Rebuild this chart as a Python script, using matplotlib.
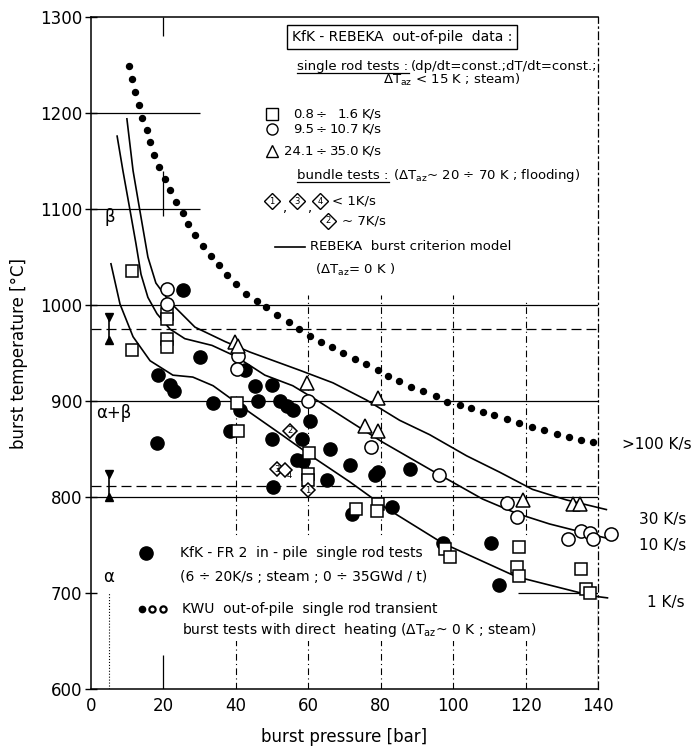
import numpy as np
import matplotlib.pyplot as plt
from matplotlib.lines import Line2D
from matplotlib.patches import Rectangle

plt.rcParams['font.family'] = ['DejaVu Sans']
plt.rcParams['mathtext.default'] = 'regular'

# REBEKA burst criterion model (dT_az = 0 K) for 1, 10 and 30 K/s
c1_p = [5.5, 8.0, 11.6, 16.3, 22.6, 28.1, 33.7, 40.3, 43.9, 53.0, 62.3, 71.4, 81.7, 97.1, 117.5, 138.5, 142.6]
c1_t = [1043, 1001, 967, 942, 927, 925, 916, 898, 888, 864, 839, 816, 788, 752, 717, 697, 695]
c10_p = [7.2, 8.8, 10.8, 12.4, 13.8, 15.7, 18.2, 21.8, 25.9, 33.4, 39.7, 43.9, 48.0, 55.7, 62.3, 71.4, 80.6,
         93.5, 108.1, 117.5, 126.6, 137.1, 142.6]
c10_t = [1176, 1140, 1098, 1064, 1032, 1008, 991, 975, 965, 958, 947, 937, 927, 916, 901, 879, 857,
         829, 798, 783, 772, 762, 757]
c30_p = [9.9, 11.6, 13.5, 15.7, 17.9, 21.8, 28.7, 37.0, 43.9, 57.7, 66.8, 76.1, 85.2, 93.5, 103.7, 112.8,
         121.9, 131.3, 142.3]
c30_t = [1194, 1140, 1098, 1050, 1023, 1003, 977, 962, 951, 932, 919, 901, 880, 865, 843, 826,
         808, 797, 787]

# KWU out-of-pile transient burst tests (>100 K/s)
kwu_p = [10.5, 11.3, 12.1, 13.2, 14.1, 15.4, 16.3, 17.4, 18.8, 20.4, 21.8, 23.4, 25.4, 26.8, 28.7, 30.9, 33.1,
         35.3, 37.5, 40.0, 42.8, 45.8, 48.3, 51.3, 54.6, 57.4, 60.4, 63.4, 66.5, 69.5, 72.8, 75.9, 79.2, 81.9,
         85.0, 88.3, 91.6, 95.2, 98.2, 101.8, 104.8, 108.1, 111.4, 114.8, 118.3, 121.7, 125.2, 128.6, 131.9,
         135.2, 138.5]
kwu_t = [1249, 1235, 1222, 1208, 1195, 1182, 1170, 1156, 1144, 1131, 1120, 1107, 1096, 1084, 1073, 1062, 1051,
         1042, 1031, 1022, 1012, 1004, 998, 990, 982, 975, 968, 962, 956, 950, 944, 939, 932, 926,
         921, 915, 910, 905, 899, 896, 893, 889, 885, 881, 877, 873, 870, 866, 863,
         859, 857]

# KfK-FR2 in-pile single rod tests
fr2_p = [25.4, 30.1, 18.5, 21.8, 22.9, 33.7, 41.2, 18.2, 38.4, 42.5, 45.3, 46.1, 50.0, 52.2, 54.1, 55.8, 60.5,
         50.0, 58.3, 56.9, 58.6, 66.0, 71.5, 79.3, 78.5, 88.1, 50.3, 65.2, 83.1, 72.1, 97.2, 110.5, 112.7]
fr2_t = [1016, 946, 927, 917, 911, 898, 891, 856, 869, 932, 916, 900, 917, 900, 895, 891, 879,
         860, 860, 839, 838, 850, 833, 826, 823, 829, 811, 818, 790, 782, 752, 752, 708]

# REBEKA single rod tests
sq_p = [11.3, 11.3, 21.0, 21.0, 21.0, 21.0, 40.3, 40.6, 60.1, 59.9, 59.9, 73.2, 79.2, 78.9, 97.7, 99.0,
        118.3, 117.5, 118.3, 135.4, 136.8, 137.7]
sq_t = [1036, 953, 991, 985, 965, 956, 898, 869, 846, 824, 818, 788, 793, 785, 746, 738,
        748, 727, 718, 725, 704, 700]
circ_p = [21.0, 21.0, 40.6, 40.3, 59.9, 77.2, 96.0, 114.8, 117.5, 131.6, 135.4, 137.7, 138.5, 143.7]
circ_t = [1017, 1001, 947, 933, 900, 852, 823, 794, 779, 756, 765, 763, 756, 762]
tri_p = [39.8, 40.6, 59.6, 79.2, 75.6, 79.2, 119.4, 133.0, 134.9]
tri_t = [962, 957, 919, 903, 874, 869, 797, 793, 793]

# REBEKA bundle tests
bundle_p = [54.9, 51.3, 53.5, 59.9]
bundle_t = [869, 829, 828, 807]
bundle_no = ['2', '3', '4', '1']

rate_lo = ['0.8', '9.5', '24.1']
rate_hi = ['1.6', '10.7', '35.0']

fig = plt.figure(figsize=(6.95, 7.49), dpi=100)
ax = fig.add_axes([0.131, 0.080, 0.7295, 0.8972])
ax.set_xlim(0, 140)
ax.set_ylim(600, 1300)
ax.set_xticks(np.arange(0, 141, 20))
ax.set_yticks(np.arange(600, 1301, 100))
ax.tick_params(axis='y', direction='inout', length=9, width=1, labelsize=12, pad=2)
ax.tick_params(axis='x', length=0, labelsize=12, pad=6)
for s in ['left', 'bottom', 'top']:
    ax.spines[s].set_linewidth(1.1)
ax.spines['right'].set_linewidth(0.9)
ax.spines['right'].set_linestyle((0, (6, 3, 1, 3)))
ax.set_xlabel('burst pressure [bar]', fontsize=12)
ax.set_ylabel('burst temperature [°C]', fontsize=12)
ax.xaxis.set_label_coords(0.5, -0.058)
ax.yaxis.set_label_coords(-0.125, 0.5)

# grid lines and phase boundaries
dashdot = (0, (6, 3, 1, 3))
ax.hlines([1000, 900, 800], 0, 140, color='k', lw=0.9, zorder=1)
ax.hlines([1200, 1100], 0, 30, color='k', lw=0.9, zorder=1)
ax.hlines([975, 812], 0, 140, color='k', lw=0.9, linestyles=[(0, (8, 4))], zorder=1)
ax.vlines(40, 600, 905, color='k', lw=0.8, linestyles=[dashdot], zorder=1)
ax.vlines([60, 80, 100], 600, 1010, color='k', lw=0.8, linestyles=[dashdot], zorder=1)
ax.vlines(120, 600, 1005, color='k', lw=0.8, linestyles=[dashdot], zorder=1)
ax.vlines(20, 600, 635, color='k', lw=0.9, zorder=1)
ax.vlines(20, 1093, 1140, color='k', lw=0.9, zorder=1)
ax.vlines(20, 1280, 1300, color='k', lw=0.9, zorder=1)
ax.vlines(5, 600, 700, color='k', lw=0.8, linestyles='dotted', zorder=1)
ax.vlines(140, 600, 700, color='k', lw=0.9, zorder=1)

# alpha / beta range markers
for lo, hi in [(961, 991), (797, 827)]:
    ax.plot([5, 5], [lo, hi], color='k', lw=1.2, zorder=2)
    ax.plot([5], [hi - 3], marker='v', color='k', ms=6, zorder=2)
    ax.plot([5], [lo + 3], marker='^', color='k', ms=6, zorder=2)
ax.text(5.3, 1092, 'β', fontsize=12, ha='center', va='center')
ax.text(1.5, 888, 'α+β', fontsize=12, ha='left', va='center')
ax.text(4.7, 717, 'α', fontsize=12, ha='center', va='center')

# white area behind the lower key
ax.add_patch(Rectangle((12, 650), 119, 107, fc='white', ec='none', zorder=1.5))
ax.hlines(700, 118, 140, color='k', lw=0.9, zorder=1.6)

# model curves
for p, t in [(c1_p, c1_t), (c10_p, c10_t), (c30_p, c30_t)]:
    ax.plot(p, t, color='k', lw=1.2, zorder=2, clip_on=False)

ax.plot(kwu_p, kwu_t, 'o', color='k', ms=4.3, ls='none', zorder=3)
ax.plot(fr2_p, fr2_t, 'o', color='k', ms=9.5, ls='none', zorder=3)
open_kw = dict(ls='none', mfc='white', mec='k', mew=1.1, zorder=4, clip_on=False)
ax.plot(sq_p, sq_t, 's', ms=8.5, **open_kw)
ax.plot(circ_p, circ_t, 'o', ms=9.5, **open_kw)
ax.plot(tri_p, tri_t, '^', ms=10, **open_kw)
ax.plot(bundle_p, bundle_t, 'D', ms=7.5, **open_kw)
for p, t, n in zip(bundle_p, bundle_t, bundle_no):
    if n == '4':
        ax.text(p + 1.3, t - 6, n, fontsize=6, ha='center', va='center', zorder=5)
    else:
        ax.text(p, t, n, fontsize=6, ha='center', va='center', zorder=5)

# upper key
fs = 9.5
ax.text(55.5, 1279, 'KfK - REBEKA  out-of-pile  data :', fontsize=10, va='center',
        bbox=dict(boxstyle='square,pad=0.35', fc='white', ec='k', lw=1))
t_single = ax.text(57, 1248, 'single rod tests :', fontsize=fs, va='center')
ax.annotate('(dp/dt=const.;dT/dt=const.;', xy=(1, 0.5), xycoords=t_single, xytext=(2, 0),
            textcoords='offset points', fontsize=fs, va='center')
ax.text(80.5, 1234, 'ΔT$_{az}$ < 15 K ; steam)', fontsize=fs, va='center')
key_t = [1199, 1183, 1160]
for mk, t, lo, hi in zip(['s', 'o', '^'], key_t, rate_lo, rate_hi):
    ax.plot([50], [t], mk, ms=8, mfc='white', mec='k', mew=1.0)
    ax.text(61.5, t, lo, fontsize=fs, va='center', ha='right')
    ax.text(63.6, t, '÷', fontsize=fs, va='center', ha='center')
    ax.text(74.0, t, hi, fontsize=fs, va='center', ha='right')
    ax.text(74.8, t, 'K/s', fontsize=fs, va='center')
t_bundle = ax.text(57, 1135, 'bundle tests :', fontsize=fs, va='center')
ax.annotate('(ΔT$_{az}$~ 20 ÷ 70 K ; flooding)', xy=(1, 0.5), xycoords=t_bundle, xytext=(3, 0),
            textcoords='offset points', fontsize=fs, va='center')
for x, n in zip([50, 56.9, 63.3], ['1', '3', '4']):
    ax.plot([x], [1108], 'D', ms=8, mfc='white', mec='k', mew=1.0)
    ax.text(x, 1108, n, fontsize=6, ha='center', va='center')
ax.text(53.4, 1101, ',', fontsize=fs, ha='center', va='center')
ax.text(60.1, 1101, ',', fontsize=fs, ha='center', va='center')
ax.text(66.5, 1108, '< 1K/s', fontsize=fs, va='center')
ax.plot([65.5], [1088], 'D', ms=8, mfc='white', mec='k', mew=1.0)
ax.text(65.5, 1088, '2', fontsize=6, ha='center', va='center')
ax.text(69.3, 1088, '~ 7K/s', fontsize=fs, va='center')
ax.plot([50.8, 59], [1061, 1061], color='k', lw=1.2)
ax.text(60.5, 1061, 'REBEKA  burst criterion model', fontsize=fs, va='center')
ax.text(61.9, 1037, '(ΔT$_{az}$= 0 K )', fontsize=fs, va='center')

# lower key
ax.plot([15.1], [742], 'o', color='k', ms=9.5)
ax.text(24.6, 742, 'KfK - FR 2  in - pile  single rod tests', fontsize=10, va='center', zorder=2)
ax.text(24.6, 717, '(6 ÷ 20K/s ; steam ; 0 ÷ 35GWd / t)', fontsize=10, va='center', zorder=2)
ax.plot([14.0], [683], 'o', color='k', ms=4.5)
ax.plot([16.8, 19.8], [683, 683], 'o', mfc='white', mec='k', mew=1.6, ms=4.5, ls='none')
ax.text(25.1, 683, 'KWU  out-of-pile  single rod transient', fontsize=10, va='center', zorder=2)
ax.text(25.1, 662, 'burst tests with direct  heating (ΔT$_{az}$~ 0 K ; steam)', fontsize=10,
        va='center', zorder=2)

# heating rate labels on the right
ax.text(146.6, 855, '>100 K/s', fontsize=11, va='center')
ax.text(151.2, 777, '30 K/s', fontsize=11, va='center')
ax.text(151.2, 750, '10 K/s', fontsize=11, va='center')
ax.text(153.4, 690, '1 K/s', fontsize=11, va='center')

# underline the two key headings
fig.canvas.draw()
renderer = fig.canvas.get_renderer()
for txt in [t_single, t_bundle]:
    bb = txt.get_window_extent(renderer)
    (x0, y0), (x1, _) = fig.transFigure.inverted().transform([[bb.x0, bb.y0], [bb.x1, bb.y1]])
    fig.add_artist(Line2D([x0, x1], [y0, y0], color='k', lw=0.9))

fig.savefig('out.png', dpi=100, facecolor='white')
